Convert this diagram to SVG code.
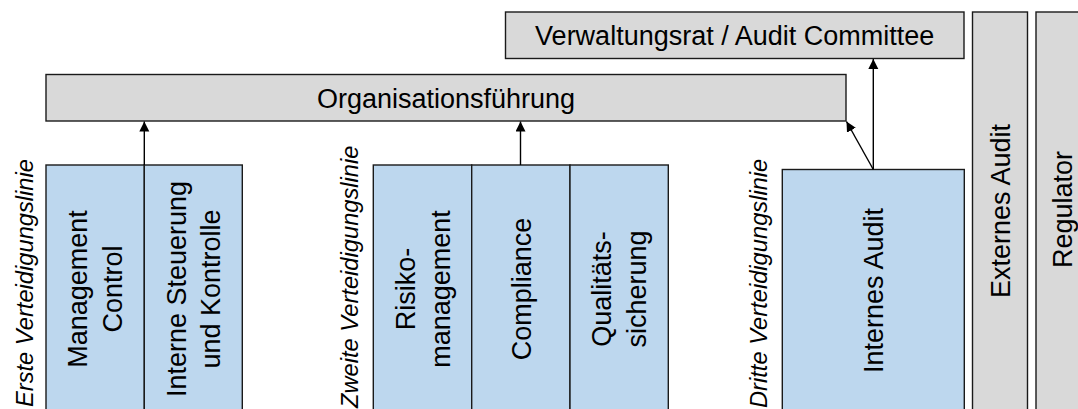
<svg xmlns="http://www.w3.org/2000/svg" width="1078" height="409" viewBox="0 0 1078 409">
<style>
.gray{fill:#d9d9d9;stroke:#1a1a1a;stroke-width:1.4}
.blue{fill:#bdd7ee;stroke:#1a1a1a;stroke-width:1.4}
.t{font-family:"Liberation Sans",Arial,sans-serif;font-size:27px;fill:#000}
.lab{font-family:"Liberation Sans",Arial,sans-serif;font-size:23.7px;font-style:italic;fill:#000}
.c{stroke:#000;stroke-width:1.4;fill:none;marker-end:url(#ah)}
</style>
<defs>
<marker id="ah" markerUnits="userSpaceOnUse" markerWidth="11" markerHeight="11" refX="10" refY="5" orient="auto">
<path d="M0,0 L10,5 L0,10 z" fill="#000"/>
</marker>
</defs>
<rect width="1078" height="409" fill="#fff"/>
<g id="verwaltungsrat">
<rect class="gray" x="505.5" y="12" width="458.5" height="46.5"/>
<text class="t" x="734.7" y="44.5" text-anchor="middle">Verwaltungsrat / Audit Committee</text>
</g>
<g id="organisationsfuehrung">
<rect class="gray" x="46" y="74.5" width="800" height="46.5"/>
<text class="t" x="446" y="107.5" text-anchor="middle">Organisationsführung</text>
</g>
<g id="externes-audit">
<rect class="gray" x="972.5" y="12" width="55" height="410"/>
<text class="t" transform="translate(1000,211) rotate(-90)" text-anchor="middle" x="0" y="9.7">Externes Audit</text>
</g>
<g id="regulator">
<rect class="gray" x="1036" y="12" width="55" height="410"/>
<text class="t" transform="translate(1062.5,209.5) rotate(-90)" text-anchor="middle" x="0" y="9.7">Regulator</text>
</g>
<g id="label-erste">
<text class="lab" transform="translate(32.5,407) rotate(-90)">Erste Verteidigungslinie</text>
</g>
<g id="label-zweite">
<text class="lab" transform="translate(357.5,408) rotate(-90)">Zweite Verteidigungslinie</text>
</g>
<g id="label-dritte">
<text class="lab" transform="translate(766.5,408) rotate(-90)">Dritte Verteidigungslinie</text>
</g>
<g id="management-control">
<rect class="blue" x="46" y="165" width="98.3" height="250"/>
<text class="t" transform="translate(95,289) rotate(-90)" text-anchor="middle"><tspan x="0" y="-7.8">Management</tspan><tspan x="0" y="27.2">Control</tspan></text>
</g>
<g id="interne-steuerung">
<rect class="blue" x="144.3" y="165" width="98" height="250"/>
<text class="t" transform="translate(193.3,289) rotate(-90)" text-anchor="middle"><tspan x="0" y="-7.8">Interne Steuerung</tspan><tspan x="0" y="27.2">und Kontrolle</tspan></text>
</g>
<g id="risikomanagement">
<rect class="blue" x="373.3" y="165" width="98.4" height="250"/>
<text class="t" transform="translate(422.5,289) rotate(-90)" text-anchor="middle"><tspan x="0" y="-7.8">Risiko-</tspan><tspan x="0" y="27.2">management</tspan></text>
</g>
<g id="compliance">
<rect class="blue" x="471.7" y="165" width="98.3" height="250"/>
<text class="t" transform="translate(520.8,289) rotate(-90)" text-anchor="middle" x="0" y="9.7">Compliance</text>
</g>
<g id="qualitaetssicherung">
<rect class="blue" x="570" y="165" width="98.3" height="250"/>
<text class="t" transform="translate(619.2,289) rotate(-90)" text-anchor="middle"><tspan x="0" y="-7.8">Qualitäts-</tspan><tspan x="0" y="27.2">sicherung</tspan></text>
</g>
<g id="internes-audit">
<rect class="blue" x="782.3" y="169.5" width="182" height="250"/>
<text class="t" transform="translate(873.3,290.5) rotate(-90)" text-anchor="middle" x="0" y="9.7">Internes Audit</text>
</g>
<g id="connectors">
<line class="c" x1="144.3" y1="165" x2="144.3" y2="121.5"/>
<line class="c" x1="520.5" y1="165" x2="520.5" y2="121.5"/>
<line class="c" x1="873.3" y1="169.5" x2="873.3" y2="59"/>
<line class="c" x1="873.3" y1="169.5" x2="846.5" y2="121.5"/>
</g>
</svg>
